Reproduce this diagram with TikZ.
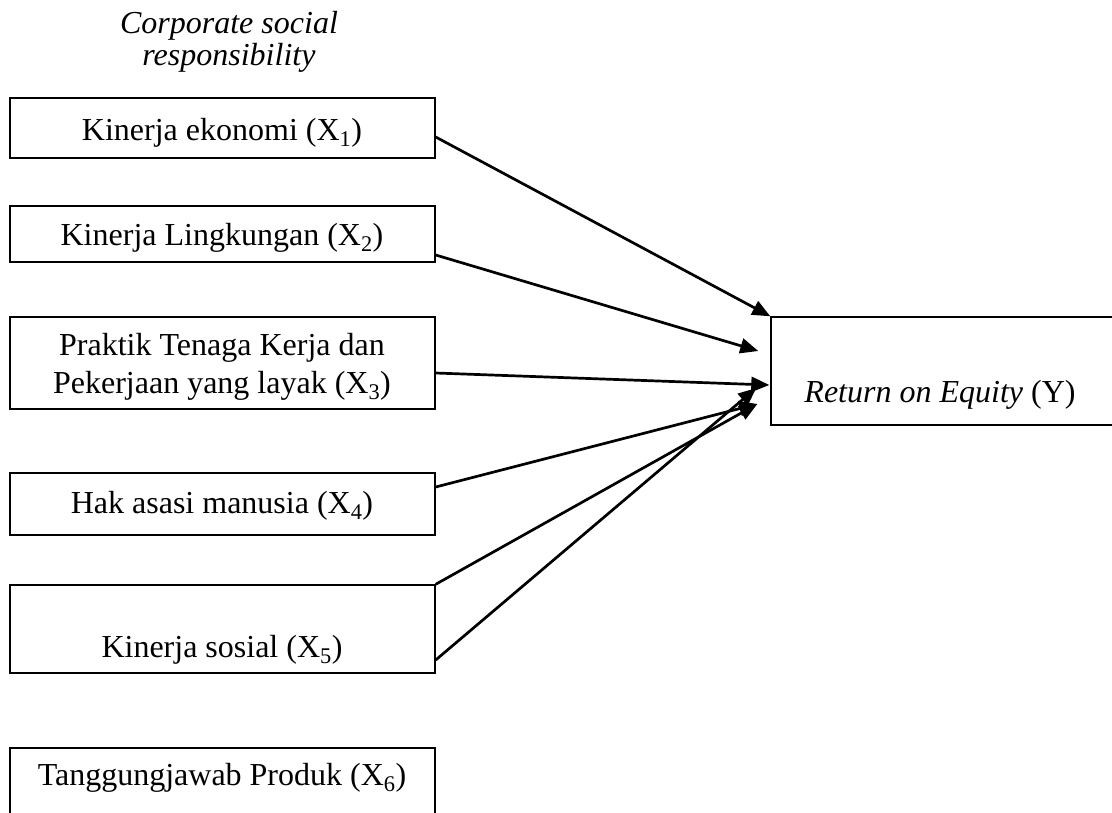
\documentclass[tikz,border=0pt]{standalone}
\usepackage{fontspec}
\setmainfont{Liberation Serif}
\usetikzlibrary{arrows.meta}
\begin{document}
\begin{tikzpicture}[x=1pt,y=-1pt,
  box/.style={draw, line width=1.4pt, inner sep=0pt, minimum width=425pt},
  txt/.style={anchor=base, inner sep=0pt, font=\fontsize{32}{38}\selectfont},
  arr/.style={line width=2.7pt, -{Triangle[length=18pt,width=15pt]}}]
\useasboundingbox (0,0) rectangle (1112,812);
% title
\begin{scope}
\clip (0,0) rectangle (460,71);
\node[txt] (t1) at (229,33) {\itshape Corporate social};
\node[txt] (t2) at (229,65) {\itshape responsibility};
\end{scope}
% boxes
\node[box, minimum height=60pt] (b1) at (222.5,128) {};
\node[box, minimum height=56pt] (b2) at (222.5,234) {};
\node[box, minimum height=92pt] (b3) at (222.5,363) {};
\node[box, minimum height=62pt] (b4) at (222.5,504) {};
\node[box, minimum height=88pt] (b5) at (222.5,629) {};
\node[box, minimum height=84pt] (b6) at (222.5,790) {};
\node[box, minimum width=360pt, minimum height=108pt] (y) at (951,371) {};
% texts
\node[txt] (l1) at (222,140) {Kinerja ekonomi (X\textsubscript{1})};
\node[txt] (l2) at (222,245) {Kinerja Lingkungan (X\textsubscript{2})};
\node[txt] (l3a) at (222,355) {Praktik Tenaga Kerja dan};
\node[txt] (l3b) at (222,393) {Pekerjaan yang layak (X\textsubscript{3})};
\node[txt] (l4) at (222,513) {Hak asasi manusia (X\textsubscript{4})};
\node[txt] (l5) at (222,657) {Kinerja sosial (X\textsubscript{5})};
\node[txt] (l6) at (222,785) {Tanggungjawab Produk (X\textsubscript{6})};
\node[txt] (ly) at (940,402) {\itshape Return on Equity\/ \upshape(Y)};
% arrow tips
\coordinate (e1) at (y.north west);
\coordinate (e2) at ([xshift=-12pt,yshift=20pt]y.west);
\coordinate (e3) at ([xshift=-1pt,yshift=-14pt]y.west);
\coordinate (e4) at ([xshift=-13pt,yshift=-33pt]y.west);
\coordinate (e5) at ([xshift=-14pt,yshift=-17pt]y.west);
% arrows
\draw[arr] ([yshift=-9pt]b1.east) -- (e1);
\draw[arr] ([yshift=-21pt]b2.east) -- (e2);
\draw[arr] ([yshift=-10pt]b3.east) -- (e3);
\draw[arr] ([yshift=17pt]b4.east) -- (e4);
\draw[arr] (b5.north east) -- (e4);
\draw[arr] ([yshift=-31pt]b5.east) -- (e5);
\end{tikzpicture}
\end{document}
